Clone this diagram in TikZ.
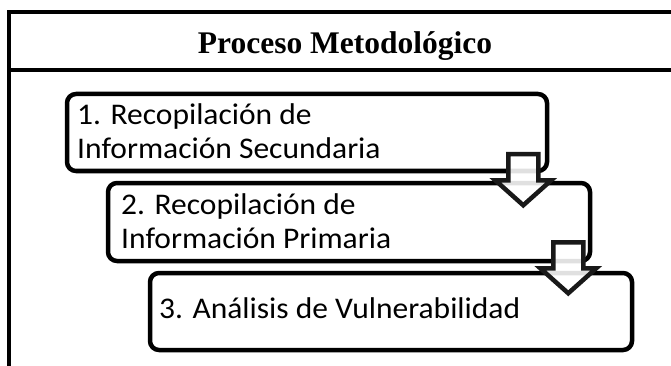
\documentclass[tikz,border=0pt]{standalone}
\usepackage{fontspec}
\setmainfont{Carlito}
\newfontfamily\boxfont[FakeStretch=1.05]{Carlito}
\newfontfamily\titlefont{Liberation Serif}
\usetikzlibrary{calc}
\tikzset{
  frameline/.style={draw=black, line width=4pt},
  stepbox/.style={draw=black, line width=4.5pt, rounded corners=9pt, fill=white, inner sep=0pt},
  blockarrow/.style={draw=black!90, line width=4.5pt, fill=white, fill opacity=0.88, line join=miter},
  lbl/.style={anchor=base west, inner sep=0pt, font=\boxfont\fontsize{30}{34}\selectfont},
  ttl/.style={anchor=base, inner sep=0pt, font=\titlefont\bfseries\fontsize{31.5}{36}\selectfont}
}
\begin{document}
\begin{tikzpicture}[x=1pt,y=-1pt]
\useasboundingbox (0,0) rectangle (671,366);
\clip (0,0) rectangle (671,366);
\fill[white] (0,0) rectangle (671,366);
% outer frame and header
\draw[frameline] (9,12) rectangle (690,395);
\draw[frameline, line width=4.5pt] (9,70) -- (690,70);
\node[ttl] (title) at (345,54) {Proceso Metodológico};
% boxes
\node[stepbox, minimum width=480pt, minimum height=77pt] (b1) at (307,132.5) {};
\node[stepbox, minimum width=482pt, minimum height=78pt] (b2) at (349,222) {};
\node[stepbox, minimum width=482pt, minimum height=77pt] (b3) at (391,311.5) {};
% block arrows
\coordinate (a1) at ($(b1.south east)+(-26,-19)$);
\coordinate (a2) at ($(b2.south east)+(-24,-21)$);
\foreach \a in {a1,a2}{
  \draw[blockarrow] (\a) ++(-15,0) -- ++(0,26) -- ++(-13,0) -- ++(28,25) -- ++(28,-25) -- ++(-13,0) -- ++(0,-26) -- cycle;
}
% labels
\node[lbl] (t1a) at (77,125) {1. Recopilación de};
\node[lbl] (t1b) at (77,159) {Información Secundaria};
\node[lbl] (t2a) at (121,214) {2. Recopilación de};
\node[lbl] (t2b) at (121,248) {Información Primaria};
\node[lbl] (t3) at (159,318) {3. Análisis de Vulnerabilidad};
\end{tikzpicture}
\end{document}
